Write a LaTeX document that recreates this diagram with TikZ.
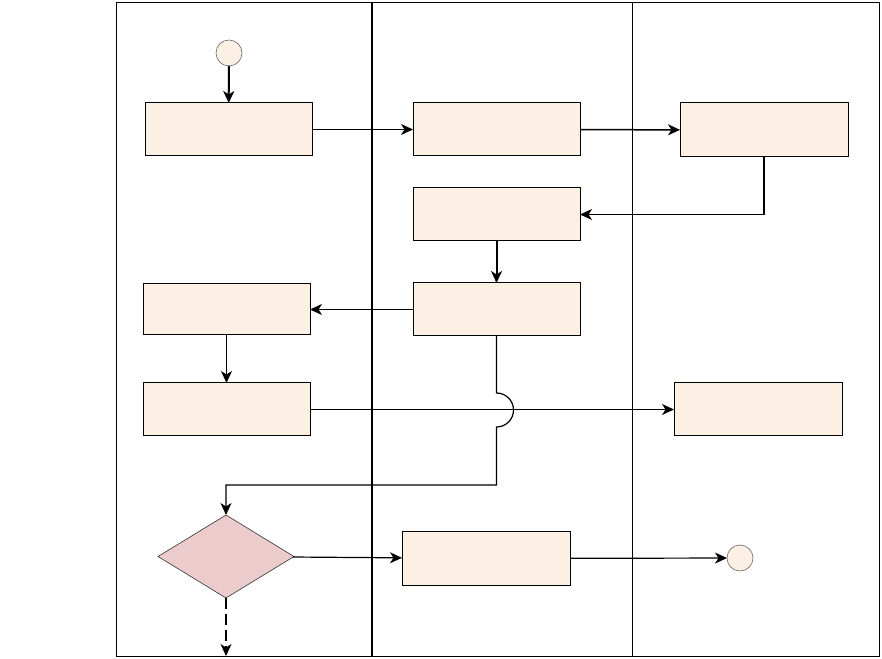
\documentclass[tikz,border=0pt]{standalone}
\usetikzlibrary{shapes.geometric,arrows.meta}
\definecolor{boxfill}{HTML}{FCEFE4}
\definecolor{decfill}{HTML}{EBCBCB}
\begin{document}
\begin{tikzpicture}[x=1pt,y=1pt,
  actbox/.style={draw=black,line width=1pt,fill=boxfill,minimum width=167pt,minimum height=53pt,inner sep=0pt,outer sep=0pt},
  endpt/.style={circle,draw=black!60,line width=0.6pt,fill=boxfill,minimum size=26pt,inner sep=0pt,outer sep=0pt},
  decbox/.style={diamond,draw=black!80,line width=0.6pt,fill=decfill,minimum width=136pt,minimum height=83pt,inner sep=0pt,outer sep=0pt},
  conn/.style={line width=1.2pt,-{Stealth[length=12pt,width=11pt,inset=3.5pt]}},
  thickconn/.style={line width=2pt,-{Stealth[length=12pt,width=11pt,inset=3.5pt]}}]
\useasboundingbox (0,0) rectangle (882,658);
% lanes
\draw[line width=1pt] (116,2) rectangle (879,655);
\draw[line width=2pt] (372,2) -- (372,655);
\draw[line width=1pt] (632,2) -- (632,655);
% nodes
\node[endpt] (start) at (229,605) {};
\node[actbox] (b1) at (228.5,528.5) {};
\node[actbox] (b2) at (496.5,528.5) {};
\node[actbox,minimum width=168pt,minimum height=54pt] (b3) at (764,528) {};
\node[actbox] (b4) at (496.5,443.5) {};
\node[actbox] (b5) at (496.5,348.5) {};
\node[actbox,minimum height=51pt] (b6) at (226.5,348.5) {};
\node[actbox] (b7) at (226.5,248.5) {};
\node[actbox,minimum width=168pt] (b8) at (758,248.5) {};
\node[decbox] (dec) at (226,101.5) {};
\node[actbox,minimum width=168pt] (b9) at (486,99.5) {};
\node[endpt] (stop) at (740,100) {};
\coordinate (jtop) at (496.5,265);
\coordinate (jbot) at (496.5,231);
\coordinate (turn) at (496.5,173);
\coordinate (out) at (226,2);
% connectors
\draw[thickconn] (start) -- (b1);
\draw[conn,line width=1.5pt] (b1) -- (b2);
\draw[conn,line width=1.5pt] (b2) -- (b3);
\draw[conn,line width=1.5pt] (b3.south) |- (b4.east);
\draw[thickconn] (b4) -- (b5);
\draw[conn] (b5) -- (b6);
\draw[conn] (b6) -- (b7);
\draw[conn] (b7) -- (b8);
\draw[conn] (b5.south) -- (jtop) arc[start angle=90,end angle=-90,radius=17] -- (turn) -| (dec.north);
\draw[conn] (dec) -- (b9);
\draw[conn] (b9) -- (stop);
\draw[conn,line width=1.5pt,dash pattern=on 11pt off 5pt] (dec.south) -- (out);
\end{tikzpicture}
\end{document}
